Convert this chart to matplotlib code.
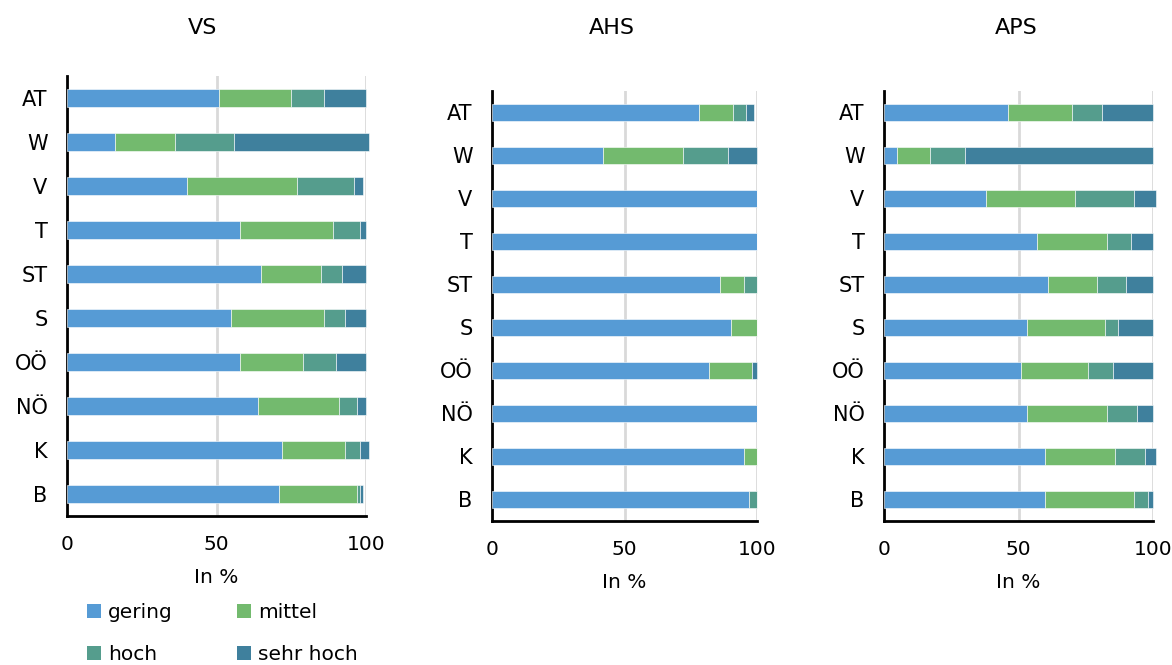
import matplotlib
matplotlib.use("Agg")
import matplotlib.pyplot as plt
from matplotlib.patches import Patch

plt.rcParams['font.family'] = ['DejaVu Sans']

regions = ["AT", "W", "V", "T", "ST", "S", "OÖ", "NÖ", "K", "B"]
levels = ["gering", "mittel", "hoch", "sehr hoch"]
colors = ["#569BD5", "#73BA6E", "#559D8D", "#3F809D"]

# Shares per school type (in %), one list per level, ordered like `regions`
vs_gering    = [51, 16, 40, 58, 65, 55, 58, 64, 72, 71]
vs_mittel    = [24, 20, 37, 31, 20, 31, 21, 27, 21, 26]
vs_hoch      = [11, 20, 19,  9,  7,  7, 11,  6,  5,  1]
vs_sehrhoch  = [14, 45,  3,  2,  8,  7, 10,  3,  3,  1]

ahs_gering   = [78, 42, 100, 100, 86, 90, 82, 100, 95, 97]
ahs_mittel   = [13, 30,   0,   0,  9, 10, 16,   0,  5,  0]
ahs_hoch     = [ 5, 17,   0,   0,  5,  0,  0,   0,  0,  3]
ahs_sehrhoch = [ 3, 11,   0,   0,  0,  0,  2,   0,  0,  0]

aps_gering   = [46,  5, 38, 57, 61, 53, 51, 53, 60, 60]
aps_mittel   = [24, 12, 33, 26, 18, 29, 25, 30, 26, 33]
aps_hoch     = [11, 13, 22,  9, 11,  5,  9, 11, 11,  5]
aps_sehrhoch = [19, 70,  8,  8, 10, 13, 15,  6,  4,  2]

# title, series, axes box in pixels (left, right, top, bottom), title centre x
panels = [
    ("VS",  [vs_gering, vs_mittel, vs_hoch, vs_sehrhoch],     (67, 366, 76, 516), 203),
    ("AHS", [ahs_gering, ahs_mittel, ahs_hoch, ahs_sehrhoch], (492, 757, 91, 521), 612),
    ("APS", [aps_gering, aps_mittel, aps_hoch, aps_sehrhoch], (884, 1153, 91, 521), 1016),
]

W, H = 1172, 665
fig = plt.figure(figsize=(W / 100, H / 100), dpi=100)

FS = 14.5
for title, series, (x0, x1, top, bottom), tx in panels:
    ax = fig.add_axes([x0 / W, 1 - bottom / H, (x1 - x0) / W, (bottom - top) / H])
    ypos = list(range(len(regions)))
    left = [0] * len(regions)
    for vals, col, lab in zip(series, colors, levels):
        bars = ax.barh(ypos, vals, left=left, height=0.4, color=col,
                       edgecolor="white", linewidth=0.4, label=lab, zorder=3)
        for b in bars:
            b.set_clip_on(False)
        left = [l + v for l, v in zip(left, vals)]
    ax.set_ylim(len(regions) - 0.5, -0.5)
    ax.set_xlim(0, 100)
    ax.set_yticks(ypos)
    ax.set_yticklabels(regions, fontsize=15)
    ax.set_xticks([0, 50, 100])
    ax.set_xticklabels(["0", "50", "100"], fontsize=FS)
    ax.tick_params(axis="both", length=0)
    ax.tick_params(axis="x", pad=14)
    ax.tick_params(axis="y", pad=14)
    ax.xaxis.grid(True, color="#d9d9d9", linewidth=2, zorder=0)
    ax.set_axisbelow(True)
    for side in ("top", "right"):
        ax.spines[side].set_visible(False)
    for side in ("left", "bottom"):
        ax.spines[side].set_linewidth(2)
        ax.spines[side].set_color("black")
    ax.set_xlabel("In %", fontsize=FS, labelpad=10)
    fig.text(tx / W, 1 - 28 / H, title, fontsize=16, ha="center", va="center")

# legend reads row-wise: gering, mittel / hoch, sehr hoch
order = [0, 2, 1, 3]
handles = [Patch(facecolor=colors[i], edgecolor="none") for i in order]
labels = [levels[i] for i in order]
fig.legend(handles, labels, loc="upper left", ncol=2, frameon=False,
           bbox_to_anchor=(87 / W, 1 - 603 / H), fontsize=FS,
           handlelength=0.7, handleheight=0.7, handletextpad=0.35,
           labelspacing=1.15, columnspacing=3.2, borderaxespad=0, borderpad=0)

fig.savefig("out.png", dpi=100)
